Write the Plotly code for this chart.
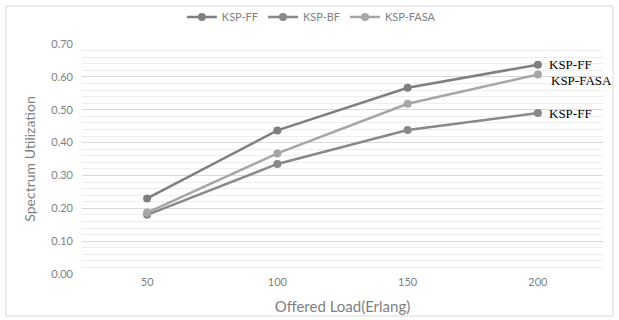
import plotly.graph_objects as go

loads = ["50", "100", "150", "200"]
ksp_ff = [0.23, 0.437, 0.567, 0.637]
ksp_bf = [0.18, 0.335, 0.438, 0.490]
ksp_fasa = [0.187, 0.367, 0.518, 0.607]
y_ticks = [0.0, 0.1, 0.2, 0.3, 0.4, 0.5, 0.6, 0.7]
end_labels = ["KSP-FF", "KSP-FASA", "KSP-FF"]

W, H = 619, 320
L, R, T, B = 82, 16, 44, 46
pw, ph = W - L - R, H - T - B

fig = go.Figure()
series = [("KSP-FF", ksp_ff, "#7f7f7f"), ("KSP-BF", ksp_bf, "#898989"), ("KSP-FASA", ksp_fasa, "#a6a6a6")]
for name, vals, col in series:
    fig.add_trace(go.Scatter(x=loads, y=vals, name=name, mode="lines+markers",
                             line=dict(color=col, width=2.5), marker=dict(color=col, size=8)))

end_vals = [ksp_ff[-1], ksp_fasa[-1], ksp_bf[-1]]
offs = [0.0, -0.018, 0.0]
xs = [3.07, 3.085, 3.07]
for lab, v, o, xx in zip(end_labels, end_vals, offs, xs):
    fig.add_annotation(x=xx, y=v + o, text=lab, showarrow=False, xanchor="left", yanchor="middle",
                       font=dict(family="Liberation Serif", size=13, color="#000000"))

fig.add_shape(type="rect", xref="paper", yref="paper",
              x0=(6 - L) / pw, x1=(613 - L) / pw, y0=(T + ph - 316) / ph, y1=(T + ph - 6) / ph,
              line=dict(color="#d9d9d9", width=1), fillcolor="rgba(0,0,0,0)", layer="below")

fig.update_layout(
    width=W, height=H, margin=dict(l=L, r=R, t=T, b=B, autoexpand=False),
    paper_bgcolor="white", plot_bgcolor="white",
    font=dict(family="Lato", color="#7f7f7f"),
    showlegend=True,
    legend=dict(orientation="h", x=0.503, xref="container", xanchor="center",
                y=1 - 17 / H, yref="container", yanchor="middle",
                font=dict(size=11, color="#7f7f7f"), tracegroupgap=0,
                bgcolor="rgba(0,0,0,0)"),
    xaxis=dict(type="category", range=[-0.5, 3.5], showgrid=False, zeroline=False, showline=False, ticks="",
               automargin=False, tickfont=dict(size=11, color="#7f7f7f"),
               title=dict(text="Offered Load(Erlang)", font=dict(size=15, color="#7f7f7f"), standoff=14)),
    yaxis=dict(range=[0, 0.7], tickvals=y_ticks, tickformat=".2f", automargin=False,
               ticklabelstandoff=8,
               showgrid=True, gridcolor="#d9d9d9", gridwidth=1, zeroline=False, showline=False,
               tickfont=dict(size=11, color="#7f7f7f"),
               minor=dict(dtick=0.02, showgrid=True, gridcolor="#eeeeee", gridwidth=1),
               title=dict(text="Spectrum Utilization", font=dict(size=14, color="#7f7f7f"), standoff=12)),
)
fig.write_html("out.html", config={"displayModeBar": False},
               post_script="document.body.style.margin='0';")
